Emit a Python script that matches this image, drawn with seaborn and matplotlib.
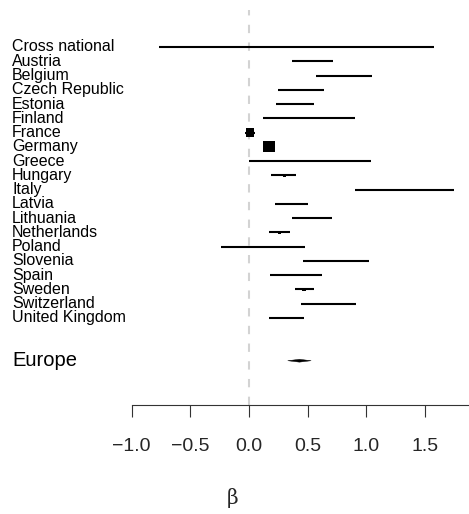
import matplotlib
matplotlib.use("Agg")
import matplotlib.pyplot as plt
import seaborn as sns
import pandas as pd
import numpy as np

# Study-level estimates (beta) with 95% confidence bounds and relative weight
countries = ["Cross national", "Austria", "Belgium", "Czech Republic", "Estonia",
             "Finland", "France", "Germany", "Greece", "Hungary", "Italy",
             "Latvia", "Lithuania", "Netherlands", "Poland", "Slovenia",
             "Spain", "Sweden", "Switzerland", "United Kingdom"]
estimate = [0.41, 0.54, 0.81, 0.45, 0.39, 0.51, 0.01, 0.17, 0.52, 0.30, 1.33,
            0.36, 0.54, 0.26, 0.12, 0.74, 0.40, 0.47, 0.68, 0.32]
lower = [-0.77, 0.37, 0.57, 0.25, 0.23, 0.12, -0.03, 0.12, 0.00, 0.19, 0.90,
         0.22, 0.37, 0.17, -0.24, 0.46, 0.18, 0.39, 0.44, 0.17]
upper = [1.58, 0.72, 1.05, 0.64, 0.55, 0.90, 0.05, 0.22, 1.04, 0.40, 1.75,
         0.50, 0.71, 0.35, 0.48, 1.02, 0.62, 0.55, 0.91, 0.47]
weight = [0.3, 1.0, 0.5, 1.2, 1.4, 0.6, 30.0, 55.0, 0.5, 2.0, 0.4,
          1.6, 1.2, 2.5, 0.5, 0.7, 0.9, 4.5, 0.8, 1.3]

# Pooled summary estimate
pooled_label = "Europe"
pooled_est = 0.43
pooled_lo = 0.33
pooled_hi = 0.53

ticks = [-1.0, -0.5, 0.0, 0.5, 1.0, 1.5]

df = pd.DataFrame({"country": countries, "est": estimate, "lo": lower,
                   "hi": upper, "w": weight})
df["row"] = np.arange(len(df))
pooled_row = len(df) + 2

sns.set_style("white")
plt.rcParams["font.family"] = ["Liberation Sans", "DejaVu Sans"]

W, H = 469, 514
fig = plt.figure(figsize=(W / 100, H / 100), dpi=100)

# axes spans the full width; vertical extent from the top of the reference line to the axis
top_px, bot_px = 10, 405
ax = fig.add_axes([0, 1 - bot_px / H, 1, (bot_px - top_px) / H])

px_per_unit = 117.3
zero_px = 249
ax.set_xlim((0 - zero_px) / px_per_unit, (W - zero_px) / px_per_unit)
row_px0, row_step = 47, 14.26
ax.set_ylim((bot_px - row_px0) / row_step, (top_px - row_px0) / row_step)

# no-effect reference line
ax.axvline(0, color="#d3d3d3", lw=1.5, dashes=(4, 4.5), zorder=1)

# confidence intervals
ax.hlines(df["row"], df["lo"], df["hi"], color="black", lw=1.5, zorder=2)

# point estimates, marker area scaled by weight
sizes = df["w"] * 1.15 + 1.5
sns.scatterplot(data=df, x="est", y="row", marker="s", s=sizes, color="black",
                linewidth=0, ax=ax, legend=False, zorder=3)

# pooled diamond
dh = 0.1
ax.fill([pooled_lo, pooled_est, pooled_hi, pooled_est],
        [pooled_row, pooled_row - dh, pooled_row, pooled_row + dh],
        color="black", lw=0.3, edgecolor="black", zorder=3)

# row labels
for r, name in zip(df["row"], df["country"]):
    ax.text(12 / W, r, name, transform=ax.get_yaxis_transform(),
            ha="left", va="center", fontsize=11.5, color="black")
ax.text(12 / W, pooled_row, pooled_label, transform=ax.get_yaxis_transform(),
        ha="left", va="center", fontsize=14.5, color="black")

# bottom axis
for s in ["top", "right", "left"]:
    ax.spines[s].set_visible(False)
ax.spines["bottom"].set_color("#333333")
ax.spines["bottom"].set_linewidth(0.8)
ax.spines["bottom"].set_bounds(-1.0, ax.get_xlim()[1])
ax.set_xticks(ticks)
ax.set_xticklabels([f"{t:.1f}".replace("-", "\u2212") for t in ticks])
ax.tick_params(axis="x", direction="out", length=8.6, width=0.8,
               color="#333333", labelsize=14, pad=15, bottom=True)
ax.set_yticks([])
ax.set_xlabel("")
ax.set_ylabel("")

fig.text(233 / W, 1 - 498 / H, "\u03b2", ha="center", va="center",
         fontsize=14.5, family=["DejaVu Serif"])

fig.savefig("out.png", dpi=100)
